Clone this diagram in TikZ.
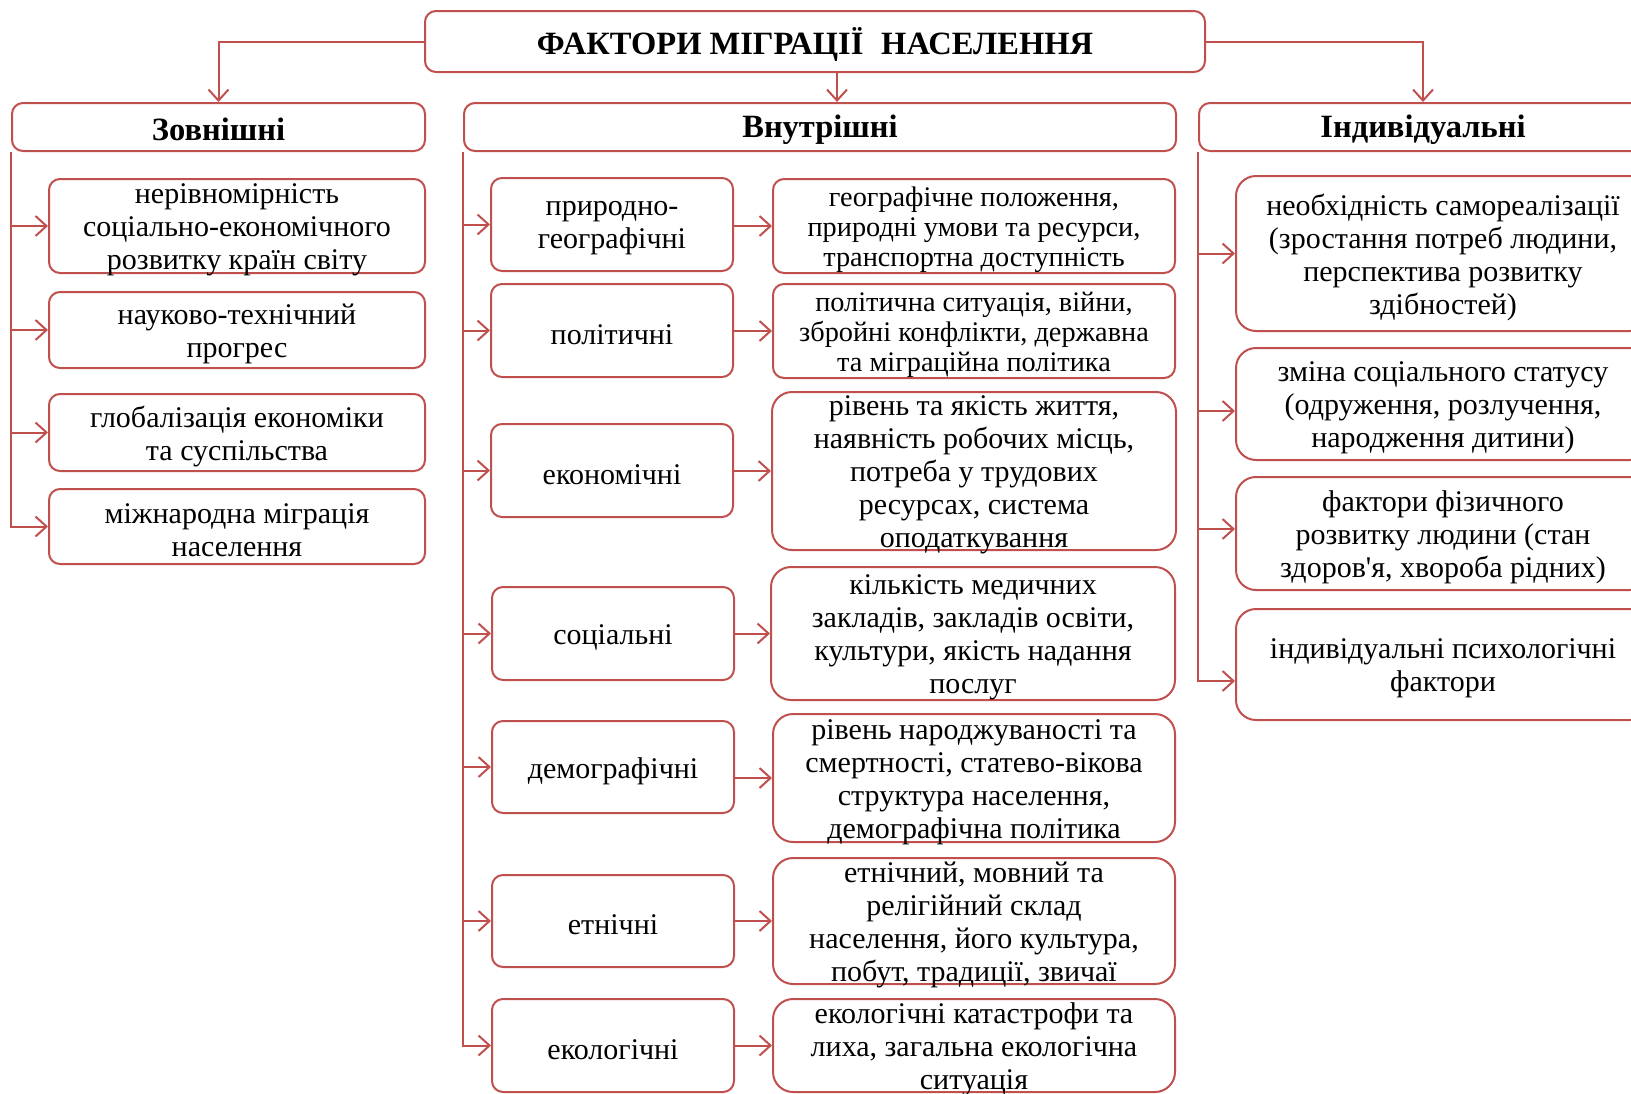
\documentclass[tikz,border=0pt]{standalone}
\usepackage{fontspec}
\setmainfont{Liberation Serif}
\newfontfamily\plainserif{Liberation Serif}
\usetikzlibrary{arrows.meta}
\definecolor{lnc}{RGB}{192,80,77}
\tikzset{
  box/.style={draw=lnc, line width=2pt, rounded corners=11pt, inner sep=0pt, fill=white},
  bigbox/.style={box, rounded corners=20pt},
  txt/.style={align=center, inner sep=0pt, yshift=-4pt, font=\fontsize{30}{33}\selectfont},
  txts/.style={align=center, inner sep=0pt, yshift=-4pt, font=\fontsize{28.3}{30}\selectfont},
  ttl/.style={align=center, inner sep=0pt, yshift=-2.5pt, font=\fontsize{32.5}{36}\selectfont\bfseries},
  arr/.style={draw=lnc, line width=2pt, -{Straight Barb[length=11pt,width=20pt,line width=2pt]}},
}
\newcommand\bx[7]{%
  \node[#7, minimum width=#4pt, minimum height=#5pt] (#1) at (#2,#3) {};
  \node[txt] (#1t) at (#1.center) {#6};}
\newcommand\bxs[7]{%
  \node[#7, minimum width=#4pt, minimum height=#5pt] (#1) at (#2,#3) {};
  \node[txts] (#1t) at (#1.center) {#6};}
\begin{document}
\begin{tikzpicture}[x=1pt,y=-1pt]
\useasboundingbox (0,0) rectangle (1631,1093);
\clip (0,0) rectangle (1631,1093);
% top
\node[box, minimum width=780pt, minimum height=61pt] (top) at (815,41.5) {};
\node[ttl] (topt) at (top.center) {ФАКТОРИ МІГРАЦІЇ\hspace{0.3em} НАСЕЛЕННЯ};
% headers
\node[box, minimum width=413pt, minimum height=48pt] (zov) at (218.5,127) {};
\node[ttl] (zovt) at (zov.center) {Зовнішні};
\node[box, minimum width=712pt, minimum height=48pt] (vnu) at (820,127) {};
\node[ttl] (vnut) at (vnu.center) {Внутрішні};
\node[box, minimum width=448pt, minimum height=48pt] (ind) at (1423,127) {};
\node[ttl] (indt) at (ind.center) {Індивідуальні};
% top arrows
\draw[arr] (top.west) -| (zov.north);
\draw[arr] ([xshift=22pt]top.south) -- ([xshift=22pt]top.south |- vnu.north);
\draw[arr] (top.east) -| (ind.north);
% left column
\bx{L1}{237}{226}{376}{94}{нерівномірність\\соціально-економічного\\розвитку країн світу}{box}
\bx{L2}{237}{330}{376}{76}{науково-технічний\\прогрес}{box}
\bx{L3}{237}{432.5}{376}{77}{глобалізація економіки\\та суспільства}{box}
\bx{L4}{237}{526.5}{376}{75}{міжнародна міграція\\населення}{box}
\foreach \n in {L1,L2,L3,L4} \draw[arr] (zov.south west) |- (\n.west);
% middle column, left
\bx{M1}{612}{224.5}{242}{93}{природно-\\географічні}{box}
\bx{M2}{612}{330.5}{242}{93}{політичні}{box}
\bx{M3}{612}{470.5}{242}{93}{економічні}{box}
\bx{M4}{613}{633.5}{242}{93}{соціальні}{box}
\bx{M5}{613}{767}{242}{92}{демографічні}{box}
\bx{M6}{613}{921}{242}{92}{етнічні}{box}
\bx{M7}{613}{1045.5}{242}{93}{екологічні}{box}
\foreach \n in {M1,M2,M3,M4,M5,M6,M7} \draw[arr] (vnu.south west) |- (\n.west);
% middle column, right
\bxs{N1}{974}{226}{402}{94}{географічне положення,\\природні умови та ресурси,\\транспортна доступність}{box}
\bxs{N2}{974}{331}{402}{94}{політична ситуація, війни,\\збройні конфлікти, державна\\та міграційна політика}{box}
\bx{N3}{974}{471}{404}{158}{рівень та якість життя,\\наявність робочих місць,\\потреба у трудових\\ресурсах, система\\оподаткування}{bigbox}
\bx{N4}{973}{633.5}{404}{133}{кількість медичних\\закладів, закладів освіти,\\культури, якість надання\\послуг}{bigbox}
\bx{N5}{974}{778}{402}{128}{рівень народжуваності та\\смертності, статево-вікова\\структура населення,\\демографічна політика}{bigbox}
\bx{N6}{974}{921}{402}{126}{етнічний, мовний та\\релігійний склад\\населення, його культура,\\побут, традиції, звичаї}{bigbox}
\bx{N7}{974}{1045.5}{402}{93}{екологічні катастрофи та\\лиха, загальна екологічна\\ситуація}{bigbox}
\foreach \a/\b in {M1/N1,M2/N2,M3/N3,M4/N4,M5/N5,M6/N6,M7/N7} \draw[arr] (\a.east |- \b.west) -- (\b.west);
% right column
\bx{R1}{1443}{253.5}{414}{155}{необхідність самореалізації\\(зростання потреб людини,\\перспектива розвитку\\здібностей)}{bigbox}
\bx{R2}{1443}{404}{414}{112}{зміна соціального статусу\\(одруження, розлучення,\\народження дитини)}{bigbox}
\bx{R3}{1443}{533.5}{414}{113}{фактори фізичного\\розвитку людини (стан\\здоров{\plainserif '}я, хвороба рідних)}{bigbox}
\bx{R4}{1443}{664.5}{414}{111}{індивідуальні психологічні\\фактори}{bigbox}
\draw[arr] (ind.south west) |- (R1.west);
\draw[arr] (ind.south west) |- ([yshift=-7pt]R2.west);
\draw[arr] (ind.south west) |- ([yshift=4.5pt]R3.west);
\draw[arr] (ind.south west) |- ([yshift=-16.5pt]R4.west);
\end{tikzpicture}
\end{document}
